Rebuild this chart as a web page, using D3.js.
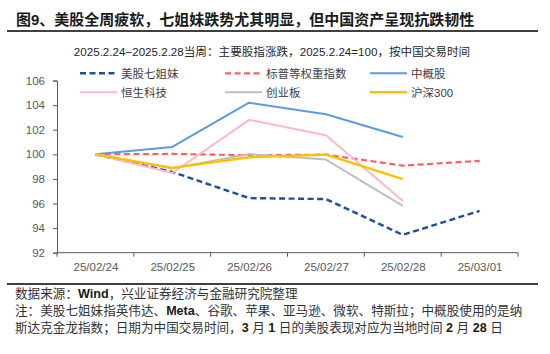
<!DOCTYPE html>
<html>
<head>
<meta charset="utf-8">
<script src="https://cdn.jsdelivr.net/npm/d3@7"></script>
<style>
  body { margin: 0; background: #fff; }
  svg { display: block; font-family: "Liberation Sans", Arial, "Noto Sans CJK SC", sans-serif; }
</style>
</head>
<body>
<script>
// Data
var dates = ["25/02/24", "25/02/25", "25/02/26", "25/02/27", "25/02/28", "25/03/01"];
var mag7   = [100, 98.57, 96.44, 96.36, 93.45, 95.4];
var spEq   = [100, 100.03, 99.92, 99.97, 99.08, 99.47];
var china  = [100, 100.6, 104.2, 103.25, 101.4];
var hstech = [100, 98.48, 102.8, 101.55, 96.2];
var chinext= [100, 98.85, 100.02, 99.57, 95.8];
var csi300 = [100, 98.9, 99.76, 99.97, 97.99];
var yTicks = [92, 94, 96, 98, 100, 102, 104, 106];

var seriesNames = ["美股七姐妹", "标普等权重指数", "中概股", "恒生科技", "创业板", "沪深300"];
var seriesVals  = [mag7, spEq, china, hstech, chinext, csi300];
var seriesColor = ["#1f4e9a", "#ff5f5f", "#5b9be6", "#ffb8c4", "#bfbfbf", "#ffc000"];
var seriesDash  = ["6,3.5", "6,3.5", null, null, null, null];
var seriesWidth = [2.4, 2.2, 2, 2, 2, 2.4];

// SVG
var W = 550, H = 354;
var svg = d3.select("body").append("svg")
   .attr("width", W)
   .attr("height", H);

// Title
svg.append("text")
   .attr("x", 16).attr("y", 25)
   .style("font-size", "15px").style("font-weight", "bold")
   .style("fill", "#1a1a1a")
   .text("图9、美股全周疲软，七姐妹跌势尤其明显，但中国资产呈现抗跌韧性");
svg.append("line")
   .attr("x1", 7).attr("x2", 538).attr("y1", 31).attr("y2", 31)
   .style("stroke", "#404040").style("stroke-width", 2);

// Subtitle
svg.append("text")
   .attr("x", 272).attr("y", 56)
   .attr("text-anchor", "middle")
   .style("font-size", "11.6px").style("fill", "#262626")
   .text("2025.2.24−2025.2.28当周：主要股指涨跌，2025.2.24=100，按中国交易时间");

// Scales
var x0 = 57, x1 = 518, yTop = 80.5, yBot = 252.7;
var band = d3.scaleBand().domain(dates).range([x0, x1]);
var xScale = d3.scalePoint().domain(dates).range([x0, x1]).padding(0.5);
var yScale = d3.scaleLinear().domain([92, 106]).range([yBot, yTop]);

// Y axis
var yaxis = d3.axisLeft(yScale).tickValues(yTicks).tickSize(4).tickPadding(8);
var gy = svg.append("g")
   .attr("transform", "translate(" + x0 + ",0)")
   .call(yaxis);
gy.selectAll("text").style("font-size", "11.5px").style("fill", "#595959")
   .style("font-family", "'Liberation Sans', Arial, sans-serif");
gy.selectAll("line, path").style("stroke", "#595959");

// X axis
var xaxis = d3.axisBottom(xScale).tickSize(0).tickPadding(10);
var gx = svg.append("g")
   .attr("transform", "translate(0," + yBot + ")")
   .call(xaxis);
gx.select("path").attr("d", "M" + x0 + ",0H" + x1).style("stroke", "#595959");
gx.selectAll("text").style("font-size", "11.5px").style("fill", "#595959")
   .style("font-family", "'Liberation Sans', Arial, sans-serif");
// tick marks at category boundaries
var bounds = dates.map(function(d) { return band(d); }).concat([band(dates[dates.length - 1]) + band.bandwidth()]);
svg.append("g").selectAll("line").data(bounds).enter().append("line")
   .attr("x1", function(d) { return d; }).attr("x2", function(d) { return d; })
   .attr("y1", yBot).attr("y2", yBot + 4)
   .style("stroke", "#595959");

// Lines
var line = d3.line()
   .x(function(d, i) { return xScale(dates[i]); })
   .y(function(d) { return yScale(d); });

seriesVals.forEach(function(vals, k) {
   svg.append("path")
      .datum(vals)
      .style("fill", "none")
      .style("stroke", seriesColor[k])
      .style("stroke-width", seriesWidth[k])
      .style("stroke-dasharray", seriesDash[k])
      .style("stroke-linejoin", "round")
      .attr("d", line);
});

// Legend
var legX = [80, 225, 370], legY = [73.3, 92.3];
seriesNames.forEach(function(name, k) {
   var lx = legX[k % 3], ly = legY[Math.floor(k / 3)];
   svg.append("line")
      .attr("x1", lx).attr("x2", lx + 37).attr("y1", ly).attr("y2", ly)
      .style("stroke", seriesColor[k])
      .style("stroke-width", seriesWidth[k])
      .style("stroke-dasharray", seriesDash[k]);
   svg.append("text")
      .attr("x", lx + 41).attr("y", ly + 4.2)
      .style("font-size", "11.5px").style("fill", "#404040")
      .text(name);
});

// Footer
svg.append("line")
   .attr("x1", 7).attr("x2", 538).attr("y1", 284).attr("y2", 284)
   .style("stroke", "#404040").style("stroke-width", 2);

var notes = [
   "数据来源：Wind，兴业证券经济与金融研究院整理",
   "注：美股七姐妹指英伟达、Meta、谷歌、苹果、亚马逊、微软、特斯拉；中概股使用的是纳",
   "斯达克金龙指数；日期为中国交易时间，3 月 1 日的美股表现对应为当地时间 2 月 28 日"
];
var noteY = [298, 315, 332];
notes.forEach(function(t, i) {
   var txt = svg.append("text")
      .attr("x", 15).attr("y", noteY[i])
      .style("font-size", "12.6px").style("fill", "#333");
   // latin words and numbers look bolder in the original
   t.split(/([A-Za-z0-9]+)/).forEach(function(part) {
      if (!part) return;
      txt.append("tspan")
         .style("font-weight", /[A-Za-z0-9]/.test(part) ? "bold" : null)
         .style("fill", /[A-Za-z0-9]/.test(part) ? "#1a1a1a" : null)
         .text(part);
   });
});
</script>
</body>
</html>
